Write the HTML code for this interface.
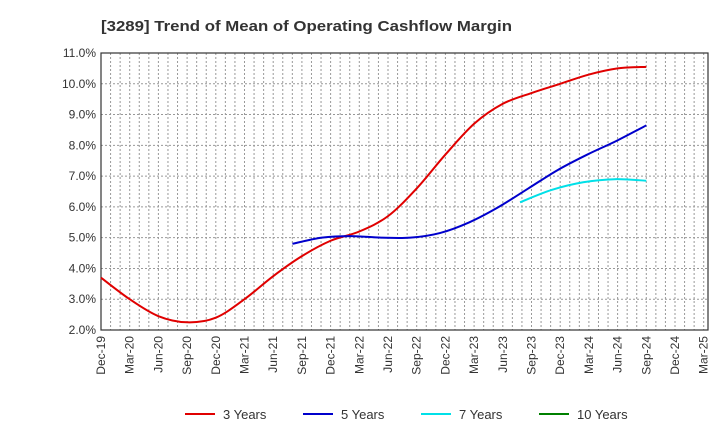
<!DOCTYPE html>
<html><head><meta charset="utf-8"><style>
body{margin:0;background:#fff;font-family:"Liberation Sans",sans-serif;}
</style></head><body>
<svg id="chart" width="720" height="440" xmlns="http://www.w3.org/2000/svg" font-family="Liberation Sans, sans-serif">
<text x="101" y="31" font-size="15" font-weight="bold" fill="#333" textLength="411" lengthAdjust="spacingAndGlyphs">[3289]  Trend of Mean of Operating Cashflow Margin</text>
<g id="grid"></g><g id="axes"></g><g id="series"></g><g id="legend"></g>
</svg>
<script>
const xLabels=["Dec-19","Mar-20","Jun-20","Sep-20","Dec-20","Mar-21","Jun-21","Sep-21","Dec-21","Mar-22","Jun-22","Sep-22","Dec-22","Mar-23","Jun-23","Sep-23","Dec-23","Mar-24","Jun-24","Sep-24","Dec-24","Mar-25"];
const yTicks=[2,3,4,5,6,7,8,9,10,11];
const s3=[3.7,3.0,2.45,2.25,2.4,3.0,3.75,4.4,4.9,5.2,5.7,6.6,7.7,8.7,9.35,9.7,10.0,10.3,10.5,10.55];
const s5=[4.8,5.0,5.05,5.0,5.0,5.15,5.5,6.0,6.6,7.2,7.7,8.15,8.65];
const s5start=6.67;
const s7=[6.15,6.55,6.8,6.9,6.85];
const s7start=14.6;
const L=101,R=708,T=53,B=330,NS="http://www.w3.org/2000/svg";
const STEP=28.7;
const xq=i=>L+STEP*i, y=v=>B-(v-2)/9*(B-T);
function mk(t,a,p){const e=document.createElementNS(NS,t);for(const k in a)e.setAttribute(k,a[k]);p.appendChild(e);return e;}
const g=document.getElementById('grid'),ax=document.getElementById('axes'),se=document.getElementById('series'),lg=document.getElementById('legend');
for(let m=1;m<64;m++){const x=L+STEP*m/3;if(x>=R)break;const l=mk('line',{x1:x,x2:x,y1:T,y2:B,stroke:'#999','stroke-dasharray':'2,2','stroke-width':1},g);
}
yTicks.forEach(v=>{const l=mk('line',{x1:L,x2:R,y1:y(v),y2:y(v),stroke:'#999','stroke-dasharray':'2,2'},g);

const t=mk('text',{x:L-5,y:y(v)+4,'font-size':12,'text-anchor':'end',fill:'#333'},ax);t.textContent=v.toFixed(1)+'%';
});
const fr=mk('rect',{x:L,y:T,width:R-L,height:B-T,fill:'none',stroke:'#333','stroke-width':1.2},ax);

xLabels.forEach((s,i)=>{const x=xq(i);const t=mk('text',{x:x+4,y:B+6,'font-size':12,'text-anchor':'end',fill:'#333',transform:`rotate(-90 ${x+4} ${B+6})`},ax);t.textContent=s;
});
function path(vals,st){const end=19;const p=vals.map((v,i)=>[xq(st+(end-st)*i/(vals.length-1)),y(v)]);let d=`M${p[0][0]},${p[0][1]}`;
for(let i=0;i<p.length-1;i++){const p0=p[i-1]||p[i],p1=p[i],p2=p[i+1],p3=p[i+2]||p2;
d+=`C${p1[0]+(p2[0]-p0[0])/6},${p1[1]+(p2[1]-p0[1])/6} ${p2[0]-(p3[0]-p1[0])/6},${p2[1]-(p3[1]-p1[1])/6} ${p2[0]},${p2[1]}`;}return d;}
[[s3,0,'#e00000','series-3-years'],[s5,s5start,'#0000cc','series-5-years'],[s7,s7start,'#00e0e8','series-7-years']].forEach(([v,st,c,n])=>{
const e=mk('path',{d:path(v,st),fill:'none',stroke:c,'stroke-width':2},se);});
[['3 Years','#e00000',185],['5 Years','#0000cc',303],['7 Years','#00e0e8',421],['10 Years','#008000',539]].forEach(([s,c,x])=>{
const l=mk('line',{x1:x,x2:x+30,y1:414,y2:414,stroke:c,'stroke-width':2},lg);
const t=mk('text',{x:x+38,y:419,'font-size':13,fill:'#333'},lg);t.textContent=s;});
</script>
</body></html>
